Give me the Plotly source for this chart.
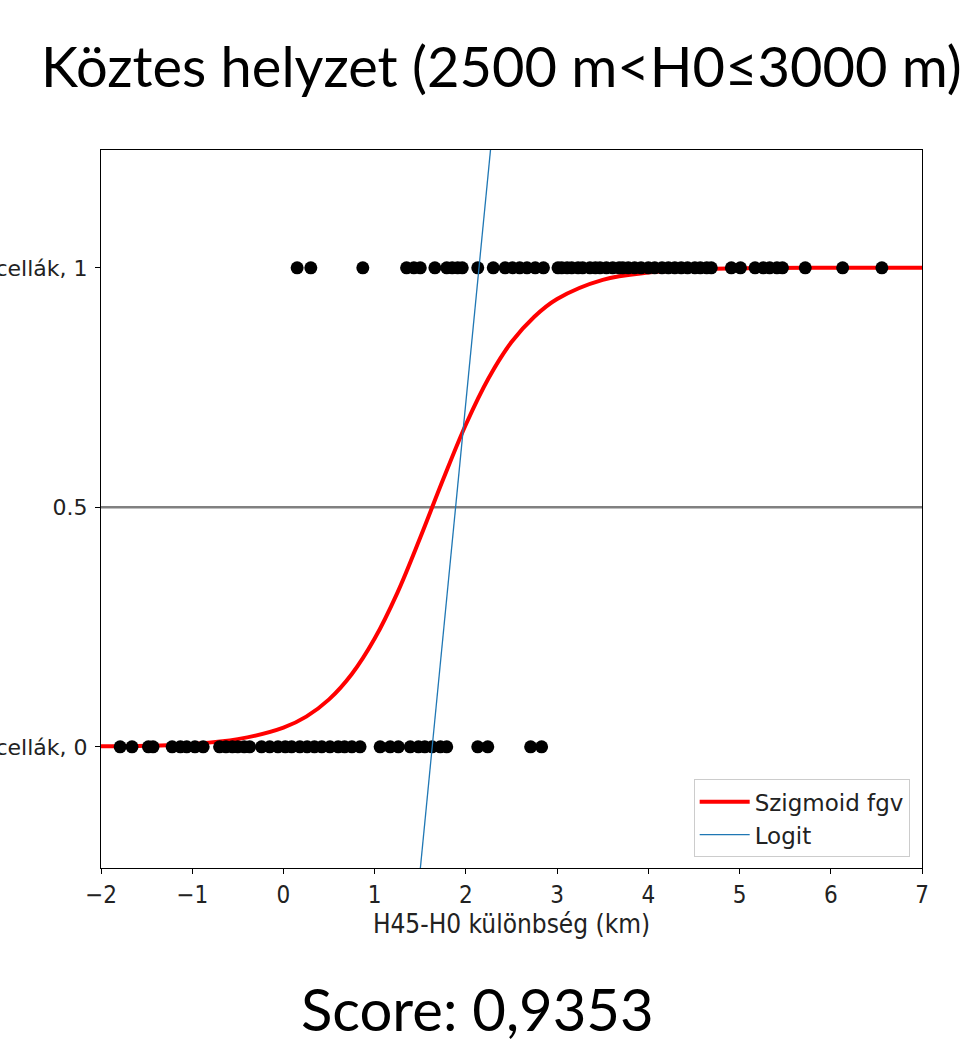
import plotly.graph_objects as go

# ---- data ----
x_class1 = [0.15, 0.30, 0.87, 1.35, 1.43, 1.50, 1.66, 1.79, 1.85, 1.91, 1.96, 2.13, 2.30,
            2.43, 2.51, 2.59, 2.67, 2.76, 2.85, 3.01, 3.05, 3.11, 3.16, 3.23, 3.28, 3.36,
            3.42, 3.47, 3.54, 3.61, 3.68, 3.72, 3.78, 3.85, 3.92, 4.00, 4.07, 4.15, 4.22,
            4.29, 4.36, 4.43, 4.51, 4.57, 4.64, 4.69, 4.91, 5.01, 5.17, 5.26, 5.33, 5.41,
            5.47, 5.72, 6.13, 6.56]
x_class0 = [-1.79, -1.66, -1.48, -1.43, -1.22, -1.13, -1.06, -0.97, -0.88, -0.70, -0.63,
            -0.56, -0.50, -0.43, -0.37, -0.24, -0.15, -0.06, 0.02, 0.09, 0.18, 0.26, 0.34,
            0.42, 0.51, 0.60, 0.67, 0.75, 0.84, 1.06, 1.17, 1.26, 1.39, 1.48, 1.55, 1.63,
            1.72, 1.79, 2.13, 2.24, 2.71, 2.83]

sig_x = [-2.0, -1.5, -1.0, -0.5, 0.0, 0.25, 0.5, 0.75, 1.0, 1.25, 1.5, 1.75, 2.0, 2.25,
         2.5, 2.75, 3.0, 3.5, 4.0, 4.5, 5.0, 6.0, 7.0]
sig_y = [0.001, 0.002, 0.006, 0.016, 0.040, 0.063, 0.099, 0.152, 0.226, 0.322, 0.437,
         0.558, 0.673, 0.770, 0.845, 0.898, 0.935, 0.975, 0.990, 0.996, 0.999, 1.0, 1.0]

logit_x = [-2.0, 7.0]
logit_y = [-7.08, 10.47]

hline_x = [-2.0, 7.0]
hline_y = [0.5, 0.5]

x_ticks = [-2, -1, 0, 1, 2, 3, 4, 5, 6, 7]
y_ticks = [0, 0.5, 1]
y_ticktext = ["Nem zivatar cellák, 0", "0.5", "Zivatar cellák, 1"]

title_text = "Köztes helyzet (2500 m<H0≤3000 m)"
score_text = "Score: 0,9353"
x_title = "H45-H0 különbség (km)"

# ---- figure ----
fig = go.Figure()
fig.add_trace(go.Scatter(x=hline_x, y=hline_y, mode="lines",
                         line=dict(color="#808080", width=2.5),
                         showlegend=False, hoverinfo="skip"))
fig.add_trace(go.Scatter(x=sig_x, y=sig_y, mode="lines", name="Szigmoid fgv",
                         line=dict(color="#ff0000", width=4, shape="spline", smoothing=1.0)))
fig.add_trace(go.Scatter(x=x_class1 + x_class0,
                         y=[1] * len(x_class1) + [0] * len(x_class0),
                         mode="markers", showlegend=False,
                         marker=dict(color="black", size=13, line=dict(width=0))))
fig.add_trace(go.Scatter(x=logit_x, y=logit_y, mode="lines", name="Logit",
                         line=dict(color="#1f77b4", width=1.3)))

axis_common = dict(showline=True, linecolor="black", linewidth=1.2, mirror=True,
                   ticks="outside", ticklen=5, tickwidth=1.2, tickcolor="black",
                   showgrid=False, zeroline=False, automargin=False)

narrow = "Liberation Sans Narrow, DejaVu Sans Condensed, DejaVu Sans"

fig.update_layout(
    template="none",
    width=972, height=1043,
    margin=dict(l=101, r=50, t=150, b=175),
    paper_bgcolor="white", plot_bgcolor="white",
    xaxis=dict(range=[-2, 7], tickvals=x_ticks,
               tickfont=dict(family=narrow, size=24, color="#222222"),
               title=dict(text=x_title, font=dict(family=narrow, size=26, color="#222222"),
                          standoff=2),
               **axis_common),
    yaxis=dict(range=[-0.253, 1.246], tickvals=y_ticks, ticktext=y_ticktext,
               tickfont=dict(family="DejaVu Sans", size=22, color="#222222"),
               ticklabelstandoff=3,
               **axis_common),
    legend=dict(x=0.985, y=0.015, xanchor="right", yanchor="bottom",
                bgcolor="rgba(255,255,255,0.8)", bordercolor="#cccccc", borderwidth=1,
                font=dict(family="DejaVu Sans", size=23, color="#222222"),
                itemwidth=50, tracegroupgap=2),
    showlegend=True,
)

fig.add_annotation(text=title_text, xref="paper", yref="paper", x=0.488, y=1.118,
                   showarrow=False, xanchor="center", yanchor="middle",
                   font=dict(family="Lato", size=56, color="black"))
fig.add_annotation(text=score_text, xref="paper", yref="paper", x=0.459, y=-0.196,
                   showarrow=False, xanchor="center", yanchor="middle",
                   font=dict(family="Lato", size=58, color="black"))

fig.write_html("out.html")
